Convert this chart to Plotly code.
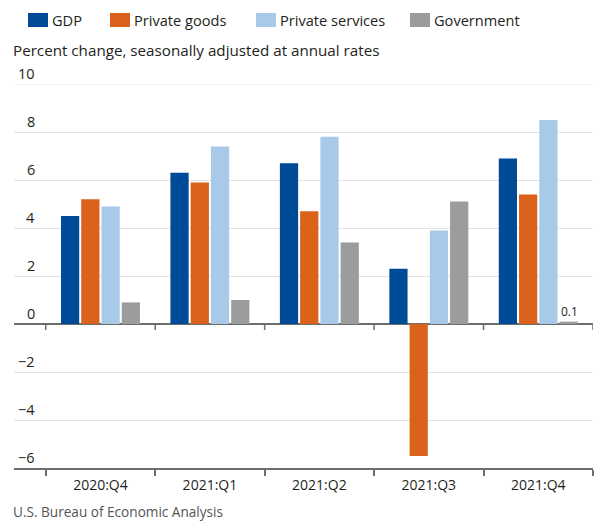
import plotly.graph_objects as go

quarters = ["2020:Q4", "2021:Q1", "2021:Q2", "2021:Q3", "2021:Q4"]
series_names = ["GDP", "Private goods", "Private services", "Government"]
gdp = [4.5, 6.3, 6.7, 2.3, 6.9]
private_goods = [5.2, 5.9, 4.7, -5.5, 5.4]
private_services = [4.9, 7.4, 7.8, 3.9, 8.5]
government = [0.9, 1.0, 3.4, 5.1, 0.1]
y_ticks = [10, 8, 6, 4, 2, 0, -2, -4, -6]
colors = ["#004B98", "#DA621B", "#A9C9E9", "#9B9C9D"]

values = [gdp, private_goods, private_services, government]
FONT = "Open Sans"
TXT = "#231F20"

fig = go.Figure()
for name, vals, col in zip(series_names, values, colors):
    fig.add_trace(go.Bar(x=quarters, y=vals, name=name, marker_color=col,
                         marker_line_width=0, showlegend=False))

W, H = 600, 521
L, R, T, B = 14, 7, 84, 53
pw = W - L - R
ph = H - T - B


def py(pix):
    return (H - B - pix) / ph


# manual legend
leg_x = [28, 110, 256, 410]
shapes = []
annotations = []
for i, (name, col) in enumerate(zip(series_names, colors)):
    x0 = leg_x[i]
    shapes.append(dict(type="rect", xref="paper", yref="paper",
                       x0=(x0 - L) / pw, x1=(x0 + 20 - L) / pw,
                       y0=py(27), y1=py(13),
                       fillcolor=col, line_width=0))
    annotations.append(dict(xref="paper", yref="paper", x=(x0 + 22 - L) / pw,
                            y=py(20), text=name, showarrow=False,
                            xanchor="left", yanchor="middle",
                            font=dict(family=FONT, size=14.6, color=TXT)))

# y tick labels
for v in y_ticks:
    lab = str(v).replace("-", "\u2212")
    annotations.append(dict(xref="paper", yref="y", x=(37 - L) / pw, y=v,
                            text=lab, showarrow=False, xanchor="right",
                            yanchor="bottom", yshift=-1,
                            font=dict(family=FONT, size=14.5, color=TXT)))

# title / source
annotations.append(dict(xref="paper", yref="paper", x=(11 - L) / pw,
                        y=py(50), text="Percent change, seasonally adjusted at annual rates",
                        showarrow=False, xanchor="left", yanchor="middle",
                        font=dict(family=FONT, size=15.2, color=TXT)))
annotations.append(dict(xref="paper", yref="paper", x=(11 - L) / pw,
                        y=py(511), text="U.S. Bureau of Economic Analysis",
                        showarrow=False, xanchor="left", yanchor="middle",
                        font=dict(family=FONT, size=13.6, color="#555555")))

# value label for tiny government bar
annotations.append(dict(x=quarters[4], y=government[4], xshift=31, text=str(government[4]),
                        showarrow=False, yanchor="bottom",
                        font=dict(family=FONT, size=12, color=TXT)))

# top gridline
shapes.append(dict(type="line", xref="paper", yref="y", x0=0, x1=1, y0=10, y1=10,
                   line=dict(color="#E3E3E3", width=1)))

# ticks on the zero line at category boundaries
for i in range(len(quarters) + 1):
    shapes.append(dict(type="line", xref="x", yref="y", x0=i - 0.5, x1=i - 0.5,
                       y0=0, y1=-0.25, line=dict(color="#6E6E6E", width=1.5)))

fig.update_layout(
    width=W, height=H,
    margin=dict(l=L, r=R, t=T, b=B),
    paper_bgcolor="white", plot_bgcolor="white",
    barmode="group", bargap=0.26, bargroupgap=0.1,
    shapes=shapes, annotations=annotations,
    font=dict(family=FONT, size=14, color=TXT),
)
fig.update_xaxes(type="category", range=[-0.79, 4.5], tickson="boundaries",
                 ticks="outside", ticklen=6, tickwidth=1.5, tickcolor="#6E6E6E",
                 ticklabelstandoff=3,
                 showline=True, linecolor="#6E6E6E", linewidth=2,
                 showgrid=False, tickfont=dict(family=FONT, size=14, color=TXT))
fig.update_yaxes(range=[-6, 10], tickvals=y_ticks, showticklabels=False,
                 showgrid=True, gridcolor="#E3E3E3", gridwidth=1,
                 zeroline=True, zerolinecolor="#6E6E6E", zerolinewidth=1.5)

fig.write_html("out.html")
